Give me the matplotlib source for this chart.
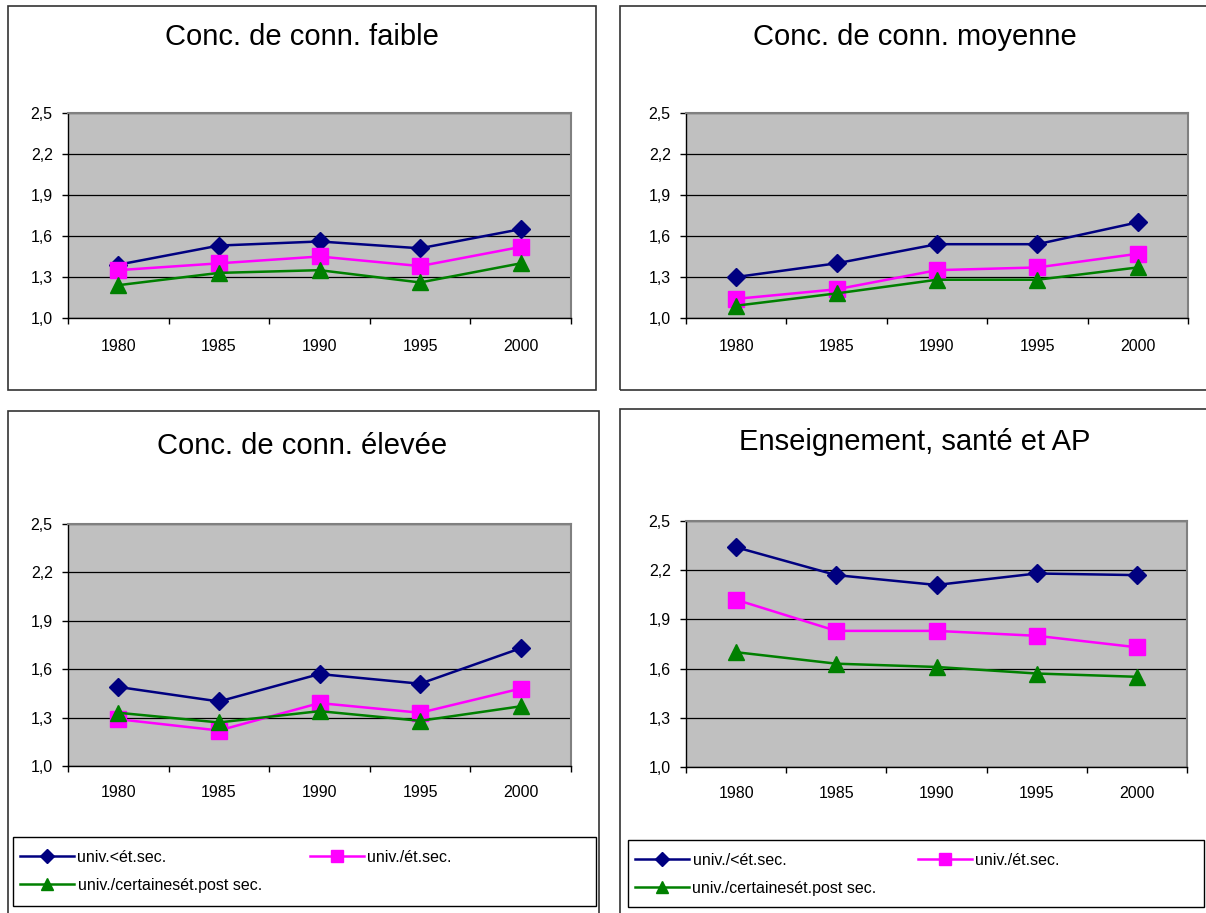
import matplotlib.pyplot as plt
from matplotlib.patches import Rectangle

plt.rcParams["font.family"] = ["Liberation Sans", "DejaVu Sans"]

W, H = 1206, 913

years = ["1980", "1985", "1990", "1995", "2000"]
y_ticks = [1.0, 1.3, 1.6, 1.9, 2.2, 2.5]
y_tick_labels = ["1,0", "1,3", "1,6", "1,9", "2,2", "2,5"]

titles = [
    "Conc. de conn. faible",
    "Conc. de conn. moyenne",
    "Conc. de conn. élevée",
    "Enseignement, santé et AP",
]

# univ. vs moins que secondaire
faible_inf_sec = [1.39, 1.53, 1.56, 1.51, 1.65]
moyenne_inf_sec = [1.30, 1.40, 1.54, 1.54, 1.70]
elevee_inf_sec = [1.49, 1.40, 1.57, 1.51, 1.73]
esap_inf_sec = [2.34, 2.17, 2.11, 2.18, 2.17]

# univ. vs secondaire
faible_sec = [1.35, 1.40, 1.45, 1.38, 1.52]
moyenne_sec = [1.14, 1.21, 1.35, 1.37, 1.47]
elevee_sec = [1.29, 1.22, 1.39, 1.33, 1.48]
esap_sec = [2.02, 1.83, 1.83, 1.80, 1.73]

# univ. vs certaines études postsecondaires
faible_postsec = [1.24, 1.33, 1.35, 1.26, 1.40]
moyenne_postsec = [1.09, 1.18, 1.28, 1.28, 1.37]
elevee_postsec = [1.33, 1.27, 1.34, 1.28, 1.37]
esap_postsec = [1.70, 1.63, 1.61, 1.57, 1.55]

legend_left = ["univ.<ét.sec.", "univ./ét.sec.", "univ./certainesét.post sec."]
legend_right = ["univ./<ét.sec.", "univ./ét.sec.", "univ./certainesét.post sec."]

styles = [
    dict(color="#000080", marker="D", markersize=9.5),
    dict(color="#FF00FF", marker="s", markersize=11.5),
    dict(color="#008000", marker="^", markersize=11.5),
]


def frac_rect(l, t, r, b):
    return [l / W, 1 - b / H, (r - l) / W, (b - t) / H]


def add_box(fig, l, t, r, b, color="#333333", lw=1.2):
    fig.add_artist(Rectangle((l / W, 1 - b / H), (r - l) / W, (b - t) / H,
                             transform=fig.transFigure, fill=False,
                             edgecolor=color, linewidth=lw))


def draw_panel(fig, plot_px, box_px, title, title_xy, series, pad):
    add_box(fig, *box_px)
    fig.text(title_xy[0] / W, 1 - title_xy[1] / H, title,
             ha="center", va="center", fontsize=21)

    ax = fig.add_axes(frac_rect(*plot_px))
    ax.set_facecolor("#C0C0C0")
    x = range(len(years))
    lines = []
    for values, st in zip(series, styles):
        ln, = ax.plot(x, values, linewidth=1.8, **st)
        lines.append(ln)

    ax.set_xlim(-0.5, len(years) - 0.5)
    ax.set_ylim(1.0, 2.5)
    ax.set_yticks(y_ticks)
    ax.set_yticklabels(y_tick_labels)
    ax.set_xticks(list(x))
    ax.set_xticklabels(years)
    ax.set_xticks([i - 0.5 for i in range(len(years) + 1)], minor=True)
    ax.tick_params(axis="x", which="major", length=0, pad=pad, labelsize=11.5)
    ax.tick_params(axis="x", which="minor", length=4, width=1)
    ax.tick_params(axis="y", length=4, width=1, pad=7, labelsize=11.5)
    ax.grid(axis="y", color="black", linewidth=0.9)
    ax.set_axisbelow(True)
    for side in ["top", "right"]:
        ax.spines[side].set_color("#808080")
        ax.spines[side].set_linewidth(1.5)
    for side in ["left", "bottom"]:
        ax.spines[side].set_color("black")
        ax.spines[side].set_linewidth(1.0)
    return lines


fig = plt.figure(figsize=(W / 100, H / 100), dpi=100)

draw_panel(fig, (68, 113, 571, 318), (8, 6, 596, 390), titles[0], (302, 37),
           [faible_inf_sec, faible_sec, faible_postsec], 15)
draw_panel(fig, (686, 113, 1188, 318), (620, 6, 1215, 390), titles[1], (915, 37),
           [moyenne_inf_sec, moyenne_sec, moyenne_postsec], 15)
lines_bl = draw_panel(fig, (68, 524, 571, 766), (8, 411, 599, 925), titles[2], (302, 446),
                      [elevee_inf_sec, elevee_sec, elevee_postsec], 14)
lines_br = draw_panel(fig, (686, 521, 1187, 767), (620, 409, 1215, 925), titles[3], (915, 442),
                      [esap_inf_sec, esap_sec, esap_postsec], 14)

# legends under the bottom panels: first column (series 1 and 3), second column (series 2)
for lines, labels, box, col2_x in [(lines_bl, legend_left, (13, 837, 596, 906), 310),
                                   (lines_br, legend_right, (628, 840, 1204, 907), 918)]:
    add_box(fig, *box, color="black", lw=1.0)
    top = box[1] + 13
    columns = [([lines[0], lines[2]], [labels[0], labels[2]], box[0] + 7),
               ([lines[1]], [labels[1]], col2_x)]
    for hs, ls, x0 in columns:
        fig.legend(hs, ls, loc="upper left",
                   bbox_to_anchor=(x0 / W, 1 - top / H),
                   bbox_transform=fig.transFigure,
                   fontsize=11.5, handlelength=3.4, handletextpad=0.2,
                   borderaxespad=0, borderpad=0, labelspacing=0.8,
                   frameon=False, markerscale=0.8)

fig.savefig("out.png", dpi=100)
